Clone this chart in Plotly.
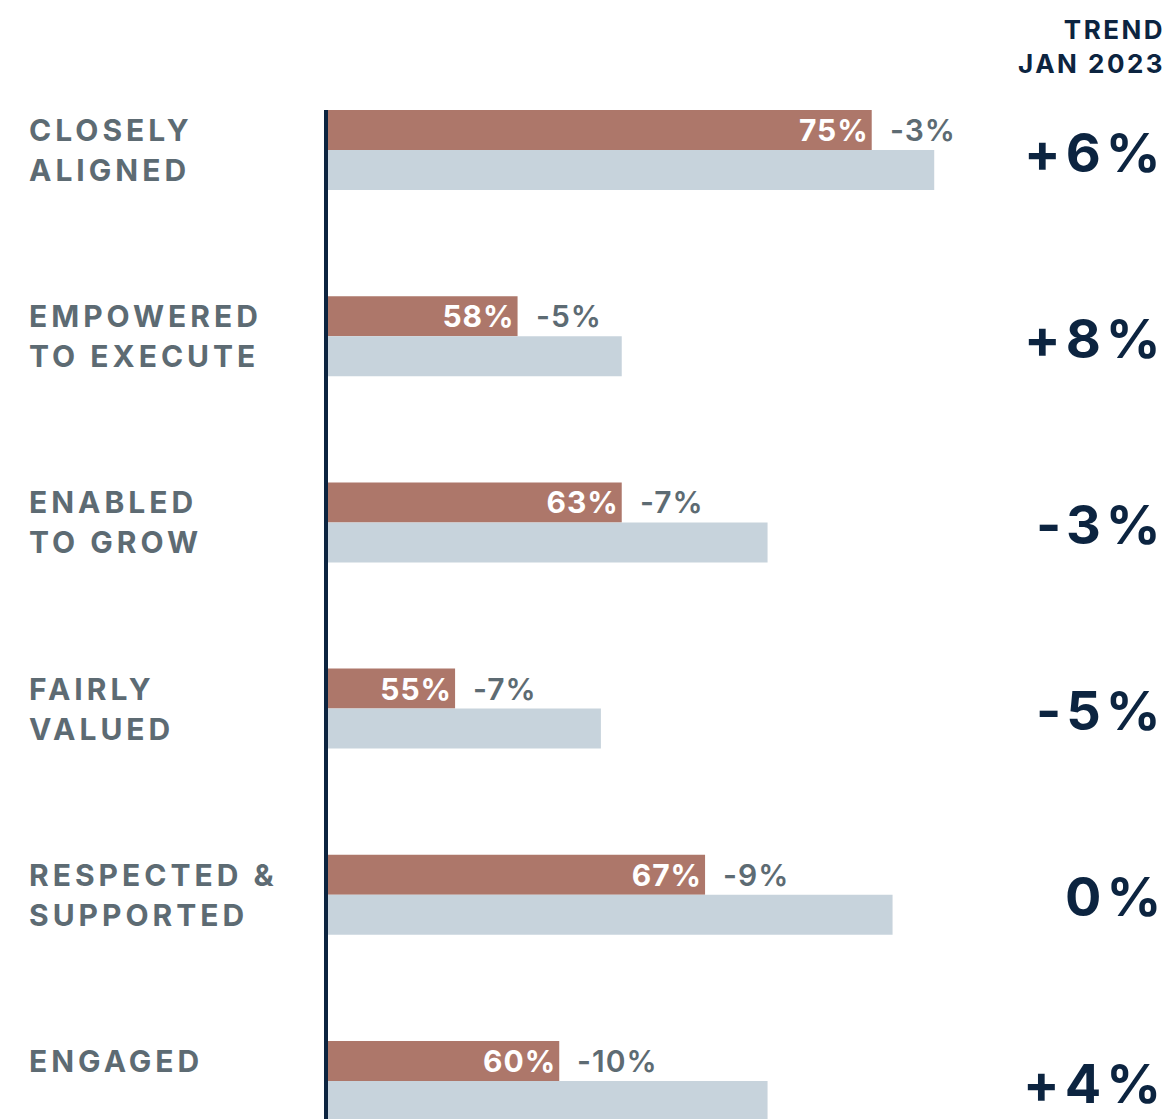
import plotly.graph_objects as go

# Survey measures, current score, change vs. prior period and trend since Jan 2023
categories = ["CLOSELY<br>ALIGNED", "EMPOWERED<br>TO EXECUTE", "ENABLED<br>TO GROW",
              "FAIRLY<br>VALUED", "RESPECTED &<br>SUPPORTED", "ENGAGED"]
current = [75, 58, 63, 55, 67, 60]
change = [-3, -5, -7, -7, -9, -10]
previous = [c - d for c, d in zip(current, change)]
trend = ["+6%", "+8%", "-3%", "-5%", "0%", "+4%"]

BROWN = "#ad776a"
LIGHT = "#c7d3dc"
NAVY = "#0c2440"
SLATE = "#5d6b73"
FONT = "Inter, Lato, sans-serif"

W, H = 1169, 1119
ML, MR, MT, MB = 328, 0, 110, 0


def spaced(txt, px):
    return f'<span style="letter-spacing:{px}px">{txt}</span>'


def px_to_paper_x(px):
    return (px - ML) / (W - ML - MR)


fig = go.Figure()
fig.add_trace(go.Bar(
    y=categories, x=current, orientation="h", name="Current",
    marker=dict(color=BROWN, line=dict(width=0)),
    text=[spaced(f"{v}%", 1) for v in current], textposition="inside",
    insidetextanchor="end", textangle=0, constraintext="none",
    textfont=dict(family=FONT, size=30, color="white", weight="bold"),
))
fig.add_trace(go.Bar(
    y=categories, x=previous, orientation="h", name="Previous",
    marker=dict(color=LIGHT, line=dict(width=0)),
    hoverinfo="x+y",
))

ann = []
for cat, cur, d, t in zip(categories, current, change, trend):
    # category label lines, left aligned, one line per bar row
    for i, line in enumerate(cat.split("<br>")):
        ann.append(dict(
            x=px_to_paper_x(27), xref="paper", xanchor="left",
            y=cat, yref="y", yanchor="middle", yshift=20 - 40 * i,
            text=spaced(line, 4), showarrow=False, align="left",
            font=dict(family=FONT, size=30, color=SLATE, weight="bold"),
        ))
    # change label next to the current bar
    ann.append(dict(
        x=cur, xref="x", xanchor="left", xshift=16,
        y=cat, yref="y", yanchor="middle", yshift=20,
        text=spaced(f"{d}%", 1), showarrow=False,
        font=dict(family=FONT, size=30, color=SLATE, weight=600),
    ))
    # trend value on the right
    ann.append(dict(
        x=px_to_paper_x(1168), xref="paper", xanchor="right",
        y=cat, yref="y", yanchor="middle", yshift=-2,
        text=spaced(t, 5), showarrow=False,
        font=dict(family=FONT, size=54, color=NAVY, weight="bold"),
    ))

ann.append(dict(
    x=px_to_paper_x(1167), xref="paper", xanchor="right",
    y=(H - MB - 12) / (H - MT - MB), yref="paper", yanchor="top",
    text=spaced("TREND", 2.5) + "<br>" + spaced("JAN 2023", 2.5),
    showarrow=False, align="right",
    font=dict(family=FONT, size=26, color=NAVY, weight="bold"),
))

fig.update_layout(
    width=W, height=H,
    margin=dict(l=ML, r=MR, t=MT, b=MB, pad=0),
    paper_bgcolor="white", plot_bgcolor="white",
    barmode="group", bargap=0.5704, bargroupgap=0,
    showlegend=False,
    annotations=ann,
    xaxis=dict(range=[48.9, 89.27], visible=False, fixedrange=True),
    yaxis=dict(
        type="category", categoryorder="array", categoryarray=categories,
        range=[5.204, -0.2148], showticklabels=False, ticks="",
        showgrid=False, zeroline=False,
        showline=True, linecolor=NAVY, linewidth=4,
    ),
)

fig.write_html("out.html")
